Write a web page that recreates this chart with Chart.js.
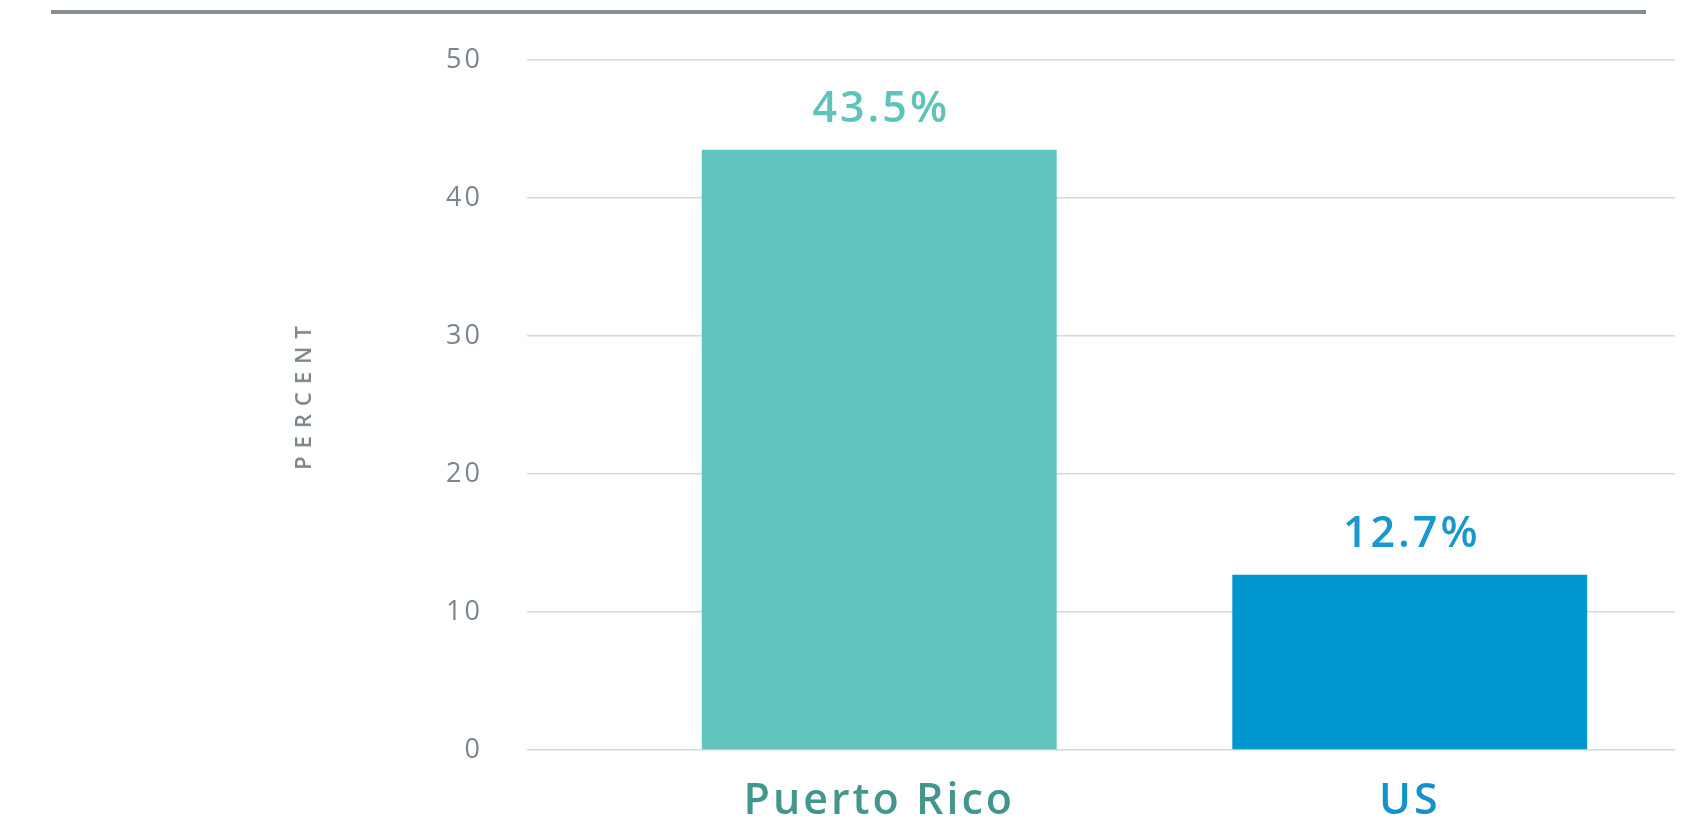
<!DOCTYPE html>
<html>
<head>
<meta charset="utf-8">
<script src="https://cdn.jsdelivr.net/npm/chart.js@4.4.0/dist/chart.umd.min.js"></script>
<style>
  html, body { margin: 0; padding: 0; background: #ffffff; }
  #wrap { position: relative; width: 1691px; height: 828px; overflow: hidden; }
  #yTitle {
    position: absolute; left: 302px; top: 394px;
    transform: translate(-50%, -50%) rotate(-90deg);
    font-family: "Open Sans", sans-serif; font-size: 22px; letter-spacing: 8px;
    color: #7a858d; white-space: nowrap; font-weight: 600;
  }
  canvas { position: absolute; left: 0; top: 0; }
</style>
</head>
<body>
<div id="wrap">
  <canvas id="c" width="1691" height="828"></canvas>
  <div id="yTitle">PERCENT</div>
</div>
<script>
const categories = ["Puerto Rico", "US"];
const values = [43.5, 12.7];
const barColors = ["#62c4be", "#0096cf"];
const valueLabelColors = ["#5ec3b9", "#1997d0"];
const categoryLabelColors = ["#43968d", "#1592cc"];
const yTicks = [0, 10, 20, 30, 40, 50];

const decorPlugin = {
  id: "decor",
  beforeDraw(chart) {
    const ctx = chart.ctx;
    ctx.save();
    ctx.fillStyle = "#868e95";
    ctx.fillRect(51, 10, 1595, 4);
    ctx.restore();
    ctx.letterSpacing = "3px";
  }
};

const valueLabelPlugin = {
  id: "valueLabels",
  afterDatasetsDraw(chart) {
    const ctx = chart.ctx;
    const meta = chart.getDatasetMeta(0);
    ctx.save();
    ctx.letterSpacing = "3px";
    ctx.font = "600 43px 'Open Sans', sans-serif";
    ctx.textAlign = "center";
    ctx.textBaseline = "middle";
    meta.data.forEach((bar, i) => {
      ctx.fillStyle = valueLabelColors[i];
      ctx.fillText(values[i].toFixed(1) + "%", bar.x + 2, bar.y - 40);
    });
    ctx.restore();
    ctx.letterSpacing = "3px";
  }
};

new Chart(document.getElementById("c"), {
  type: "bar",
  data: {
    labels: categories,
    datasets: [{
      data: values,
      backgroundColor: barColors,
      borderWidth: 0,
      barPercentage: 0.669,
      categoryPercentage: 1.0
    }]
  },
  options: {
    responsive: false,
    animation: false,
    devicePixelRatio: 1,
    layout: { padding: { left: 446, right: 16, top: 56, bottom: 0 } },
    plugins: { legend: { display: false }, tooltip: { enabled: false } },
    scales: {
      x: {
        grid: { display: false, drawTicks: false },
        border: { display: false },
        ticks: {
          z: 1,
          padding: 26,
          font: { family: "'Open Sans', sans-serif", size: 43, weight: 600 },
          color: (c) => categoryLabelColors[c.index]
        },
        afterFit(scale) { scale.height = 78; }
      },
      y: {
        min: 0, max: 50,
        afterBuildTicks(scale) { scale.ticks = yTicks.map(v => ({ value: v })); },
        grid: { color: "#d5d8db", lineWidth: 1.5, drawTicks: true, tickLength: 87, tickColor: "#d5d8db" },
        border: { display: false },
        ticks: {
          padding: 44,
          font: { family: "'Open Sans', sans-serif", size: 27 },
          color: "#7a8590"
        },
        afterFit(scale) { scale.width = 168; }
      }
    }
  },
  plugins: [decorPlugin, valueLabelPlugin]
});
</script>
</body>
</html>
